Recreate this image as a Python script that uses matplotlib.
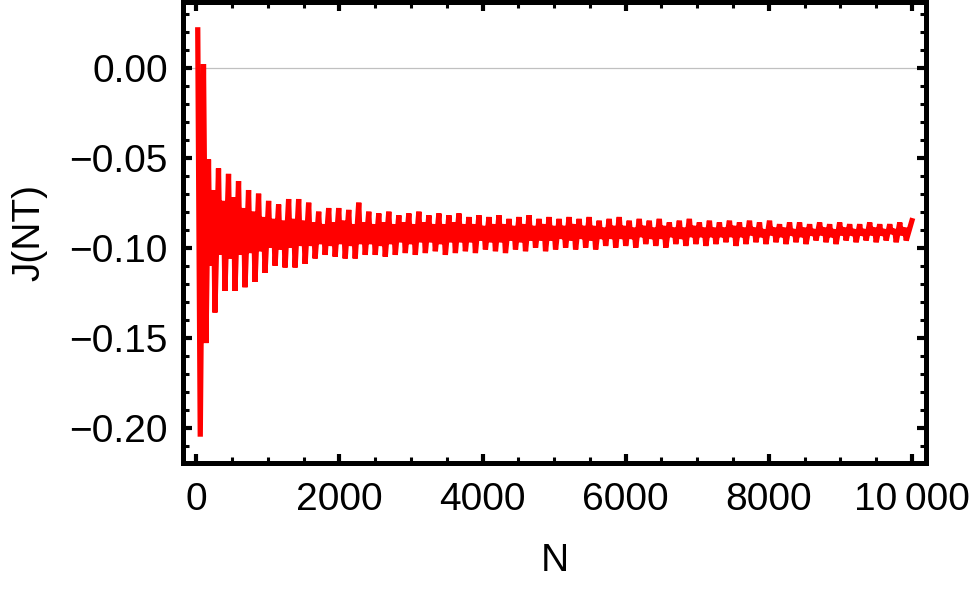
import numpy as np
import matplotlib
matplotlib.use('Agg')
import matplotlib.pyplot as plt
from matplotlib.ticker import MultipleLocator

#%% DATA
# ----------------------
# first few samples (large initial swings)
n_head = [20, 55, 100, 135]
j_head = [0.021, -0.205, 0.002, -0.153]
# tooth tips of the oscillation, one per 140 in N
j_top = [-0.051, -0.056, -0.059, -0.063, -0.068, -0.070, -0.074, -0.076, -0.073, -0.073,
         -0.075, -0.080, -0.078, -0.078, -0.079, -0.075, -0.080, -0.081, -0.080, -0.082,
         -0.081, -0.080, -0.082, -0.081, -0.082, -0.081, -0.083, -0.082, -0.083, -0.082,
         -0.084, -0.083, -0.082, -0.084, -0.083, -0.084, -0.083, -0.084, -0.083, -0.085,
         -0.084, -0.083, -0.085, -0.084, -0.085, -0.084, -0.086, -0.085, -0.084, -0.086,
         -0.085, -0.086, -0.085, -0.086, -0.085, -0.086, -0.085, -0.087, -0.086, -0.086,
         -0.087, -0.086, -0.087, -0.086, -0.087, -0.087, -0.086, -0.087, -0.087, -0.086]
j_bot = [-0.136, -0.124, -0.124, -0.122, -0.119, -0.114, -0.110, -0.111, -0.111, -0.109,
         -0.106, -0.104, -0.105, -0.106, -0.106, -0.104, -0.104, -0.105, -0.104, -0.103,
         -0.104, -0.103, -0.102, -0.104, -0.103, -0.102, -0.103, -0.101, -0.102, -0.103,
         -0.101, -0.102, -0.100, -0.102, -0.101, -0.100, -0.101, -0.100, -0.101, -0.099,
         -0.100, -0.099, -0.100, -0.098, -0.099, -0.100, -0.098, -0.099, -0.098, -0.099,
         -0.098, -0.097, -0.099, -0.098, -0.097, -0.098, -0.097, -0.098, -0.097, -0.098,
         -0.096, -0.097, -0.098, -0.096, -0.097, -0.096, -0.097, -0.096, -0.097, -0.096]
# notch levels between the teeth (upper and lower edge of the band)
j_top_n = [-0.068, -0.074, -0.072, -0.078, -0.080, -0.083, -0.084, -0.085, -0.084, -0.085,
           -0.086, -0.087, -0.086, -0.085, -0.087, -0.086, -0.087, -0.086, -0.087, -0.086,
           -0.087, -0.086, -0.087, -0.087, -0.086, -0.087, -0.087, -0.088, -0.087, -0.087,
           -0.088, -0.087, -0.088, -0.087, -0.088, -0.088, -0.087, -0.088, -0.088, -0.089,
           -0.088, -0.088, -0.089, -0.088, -0.089, -0.088, -0.089, -0.089, -0.088, -0.089,
           -0.089, -0.089, -0.088, -0.089, -0.089, -0.090, -0.089, -0.089, -0.090, -0.089,
           -0.090, -0.089, -0.090, -0.089, -0.090, -0.090, -0.089, -0.090, -0.090, -0.089]
j_bot_n = [-0.110, -0.104, -0.106, -0.104, -0.103, -0.102, -0.100, -0.101, -0.100, -0.099,
           -0.099, -0.098, -0.099, -0.098, -0.099, -0.098, -0.098, -0.099, -0.098, -0.097,
           -0.098, -0.097, -0.097, -0.098, -0.097, -0.097, -0.097, -0.096, -0.097, -0.097,
           -0.096, -0.097, -0.096, -0.096, -0.096, -0.095, -0.096, -0.095, -0.096, -0.095,
           -0.095, -0.095, -0.095, -0.094, -0.095, -0.095, -0.094, -0.095, -0.094, -0.094,
           -0.094, -0.094, -0.094, -0.094, -0.093, -0.094, -0.093, -0.094, -0.093, -0.094,
           -0.093, -0.093, -0.094, -0.093, -0.093, -0.093, -0.093, -0.093, -0.092, -0.093]
n_last = 10000
j_last = -0.085
x_ticks = [0, 2000, 4000, 6000, 8000, 10000]
x_labels = ['0', '2000', '4000', '6000', '8000', '10\u2009000']
y_ticks = [0.00, -0.05, -0.10, -0.15, -0.20]
y_labels = ['0.00', '\u22120.05', '\u22120.10', '\u22120.15', '\u22120.20']
# ----------------------

# four samples per tooth period: tip, lower notch, upper notch, lower tip
k = np.arange(len(j_top))
n_osc = np.empty(4*len(k))
j_osc = np.empty(4*len(k))
n_osc[0::4] = 170 + 140*k
n_osc[1::4] = 190 + 140*k
n_osc[2::4] = 240 + 140*k
n_osc[3::4] = 260 + 140*k
j_osc[0::4] = j_top
j_osc[1::4] = j_bot_n
j_osc[2::4] = j_top_n
j_osc[3::4] = j_bot
n = np.concatenate([n_head, n_osc, [n_last]])
J = np.concatenate([j_head, j_osc, [j_last]])

#%% PLOT
# ----------------------
plt.rcParams['font.family'] = ['Liberation Sans', 'DejaVu Sans']
fig = plt.figure(figsize=(9.75, 5.9), dpi=100)
ax = fig.add_axes([0.1877, 0.2153, 0.9497-0.1877, 0.9958-0.2153])

ax.axhline(0, color='#c0c0c0', lw=0.9, zorder=1)
ax.plot(n, J, color='#ff0000', lw=3.8, solid_joinstyle='bevel', zorder=2)

ax.set_xlim(-186, 10196)
ax.set_ylim(-0.2196, 0.0362)
ax.set_xticks(x_ticks)
ax.set_xticklabels(x_labels)
ax.set_yticks(y_ticks)
ax.set_yticklabels(y_labels)
ax.xaxis.set_minor_locator(MultipleLocator(500))
ax.yaxis.set_minor_locator(MultipleLocator(0.01))

for s in ax.spines.values():
    s.set_linewidth(3.6)
    s.set_color('black')
ax.tick_params(which='both', direction='in', top=True, right=True, colors='black')
ax.tick_params(which='major', length=6.5, width=3.0, labelsize=28)
ax.tick_params(which='minor', length=4, width=2.2)
ax.tick_params(axis='y', which='major', pad=11)
ax.tick_params(axis='x', which='major', pad=14)

ax.set_xlabel('N', fontsize=28, labelpad=18)
ax.set_ylabel('J(NT)', fontsize=28, labelpad=16)

fig.savefig('out.png', dpi=100)
# ----------------------
